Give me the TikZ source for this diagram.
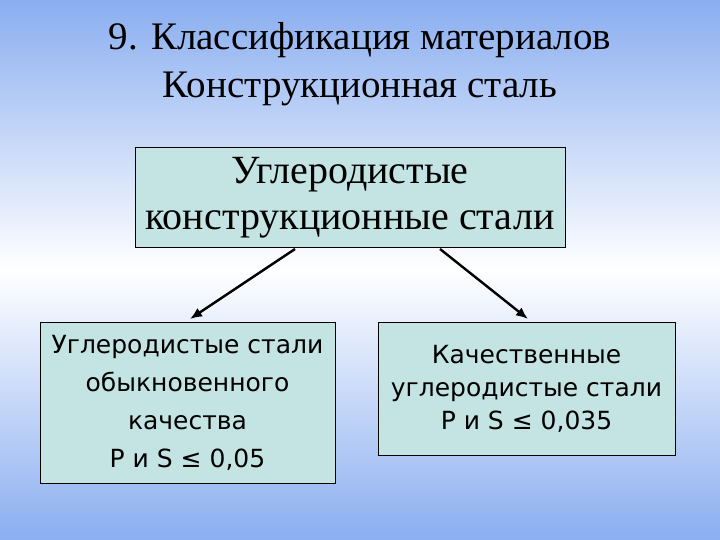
\documentclass[tikz,border=0pt]{standalone}
\usepackage{fontspec}
\usetikzlibrary{arrows.meta}
\setmainfont{Liberation Serif}
\newfontfamily\boxfont{DejaVu Sans}
\begin{document}
\begin{tikzpicture}[x=1pt,y=-1pt,
  box/.style={draw=black, line width=1pt, fill=boxc, align=center, inner sep=0pt},
  arr/.style={-{Latex[length=12pt,width=10pt]}, line width=2.4pt}]
\definecolor{bl}{HTML}{8AAEF0}
\definecolor{boxc}{HTML}{C4E4E4}
\useasboundingbox (0,0) rectangle (720,540);
\shade[top color=bl, bottom color=white] (0,0) rectangle (720,270);
\shade[top color=white, bottom color=bl] (0,270) rectangle (720,540);
\node[align=center, font=\fontsize{39}{48}\selectfont] (title) at (360,64) {9. Классификация материалов\\Конструкционная сталь};
\node[box, minimum width=430pt, minimum height=99pt, font=\fontsize{40}{46}\selectfont] (top) at (350,197.5) {Углеродистые\\конструкционные стали};
\node[box, minimum width=295pt, minimum height=161pt, font=\boxfont\fontsize{25}{38}\selectfont] (l) at (187.5,402.5) {Углеродистые стали\\обыкновенного\\качества\\Р и S ≤ 0,05};
\node[box, minimum width=297pt, minimum height=133pt, font=\boxfont\fontsize{25}{33}\selectfont] (r) at (526.5,388.5) {Качественные\\углеродистые стали\\Р и S ≤ 0,035};
\coordinate (a1) at (295,249);
\coordinate (a2) at (440,249);
\coordinate (e1) at (190,319);
\coordinate (e2) at (528,319);
\draw[arr] (a1) -- (e1);
\draw[arr] (a2) -- (e2);
\end{tikzpicture}
\end{document}
